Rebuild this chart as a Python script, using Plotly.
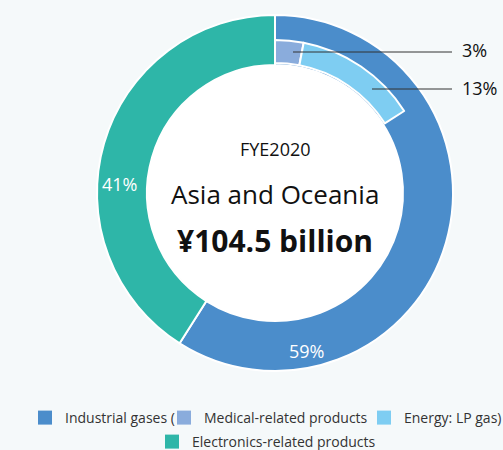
import plotly.graph_objects as go

# ---- data ----
segments = ["Industrial gases", "Electronics-related products"]
segment_values = [59, 41]
sub_segments = ["Medical-related products", "Energy: LP gas"]
sub_values = [3, 13]
legend_labels = ["Industrial gases (", "Medical-related products", "Energy: LP gas)",
                 "Electronics-related products"]
title_year = "FYE2020"
title_region = "Asia and Oceania"
title_amount = "¥104.5 billion"

# ---- style ----
C_IND = "#4b8dcb"
C_MED = "#8aacdc"
C_ENE = "#7ecdf2"
C_ELE = "#2eb6a8"
BG = "#f5f9fa"
FONT = "Open Sans"

W, H = 503, 450
def px(x): return x / W
def py(y): return 1 - y / H

CX, CY = 275, 193
R_OUT, R_IN = 178, 128
R_SUB_OUT, R_SUB_IN = 153, 130

fig = go.Figure()

fig.add_trace(go.Pie(
    labels=segments, values=segment_values, sort=False, direction="clockwise", rotation=0,
    hole=R_IN / R_OUT,
    domain=dict(x=[px(CX - R_OUT), px(CX + R_OUT)], y=[py(CY + R_OUT), py(CY - R_OUT)]),
    marker=dict(colors=[C_IND, C_ELE], line=dict(color="white", width=2)),
    textinfo="none", showlegend=False, hoverinfo="label+percent"))

rest = 100 - sum(sub_values)
fig.add_trace(go.Pie(
    labels=sub_segments + [" "], values=sub_values + [rest], sort=False, direction="clockwise", rotation=0,
    hole=R_SUB_IN / R_SUB_OUT,
    domain=dict(x=[px(CX - R_SUB_OUT), px(CX + R_SUB_OUT)], y=[py(CY + R_SUB_OUT), py(CY - R_SUB_OUT)]),
    marker=dict(colors=[C_MED, C_ENE, "rgba(0,0,0,0)"], line=dict(color="white", width=[2, 2, 0])),
    textinfo="none", showlegend=False, hoverinfo="skip"))

# legend entries, each in its own legend box for exact placement
legend_ids = ["legend", "legend2", "legend3", "legend4"]
legend_colors = [C_IND, C_MED, C_ENE, C_ELE]
legend_pos = [(25, 418), (164, 418), (364, 418), (152, 442)]  # symbol centre x - 20, row y
for name, color, lid in zip(legend_labels, legend_colors, legend_ids):
    fig.add_trace(go.Scatter(x=[None], y=[None], mode="markers", name=name,
                             marker=dict(symbol="square", size=14, color=color), legend=lid))

annotations = [
    dict(x=px(CX), y=py(149), text=title_year, font=dict(size=18, color="#111")),
    dict(x=px(CX), y=py(194), text=title_region, font=dict(size=26, color="#111")),
    dict(x=px(CX), y=py(240), text="<b>" + title_amount + "</b>", font=dict(size=30, color="#111")),
    dict(x=px(119), y=py(184), text=f"{segment_values[1]}%", font=dict(size=18, color="white")),
    dict(x=px(306), y=py(351), text=f"{segment_values[0]}%", font=dict(size=18, color="white")),
    dict(x=px(460), y=py(50), text=f"{sub_values[0]}%", xanchor="left", font=dict(size=18, color="#111")),
    dict(x=px(460), y=py(88), text=f"{sub_values[1]}%", xanchor="left", font=dict(size=18, color="#111")),
]
for a in annotations:
    a.update(xref="paper", yref="paper", showarrow=False, font_family=FONT)
    a.setdefault("xanchor", "center")
    a["yanchor"] = "middle"

shapes = [
    dict(type="circle", xref="paper", yref="paper", layer="below",
         x0=px(CX - R_IN), x1=px(CX + R_IN), y0=py(CY + R_IN), y1=py(CY - R_IN),
         fillcolor="white", line=dict(width=0)),
    dict(type="line", xref="paper", yref="paper", x0=px(293), x1=px(452), y0=py(52), y1=py(52),
         line=dict(color="#333", width=1)),
    dict(type="line", xref="paper", yref="paper", x0=px(372), x1=px(452), y0=py(89), y1=py(89),
         line=dict(color="#333", width=1)),
]

legend_layout = {}
for lid, (lx, ly) in zip(legend_ids, legend_pos):
    legend_layout[lid] = dict(orientation="h", x=px(lx), y=py(ly), xanchor="left", yanchor="middle",
                              font=dict(size=14, color="#333", family=FONT),
                              bgcolor="rgba(0,0,0,0)", itemwidth=30, borderwidth=0)

fig.update_layout(
    width=W, height=H, margin=dict(l=0, r=0, t=0, b=0, autoexpand=False),
    paper_bgcolor=BG, plot_bgcolor="rgba(0,0,0,0)",
    xaxis=dict(visible=False), yaxis=dict(visible=False),
    annotations=annotations, shapes=shapes,
    font=dict(family=FONT, color="#333"),
    **legend_layout,
)

fig.write_html("out.html", config={"displayModeBar": False},
               post_script="document.body.style.margin='0';")
